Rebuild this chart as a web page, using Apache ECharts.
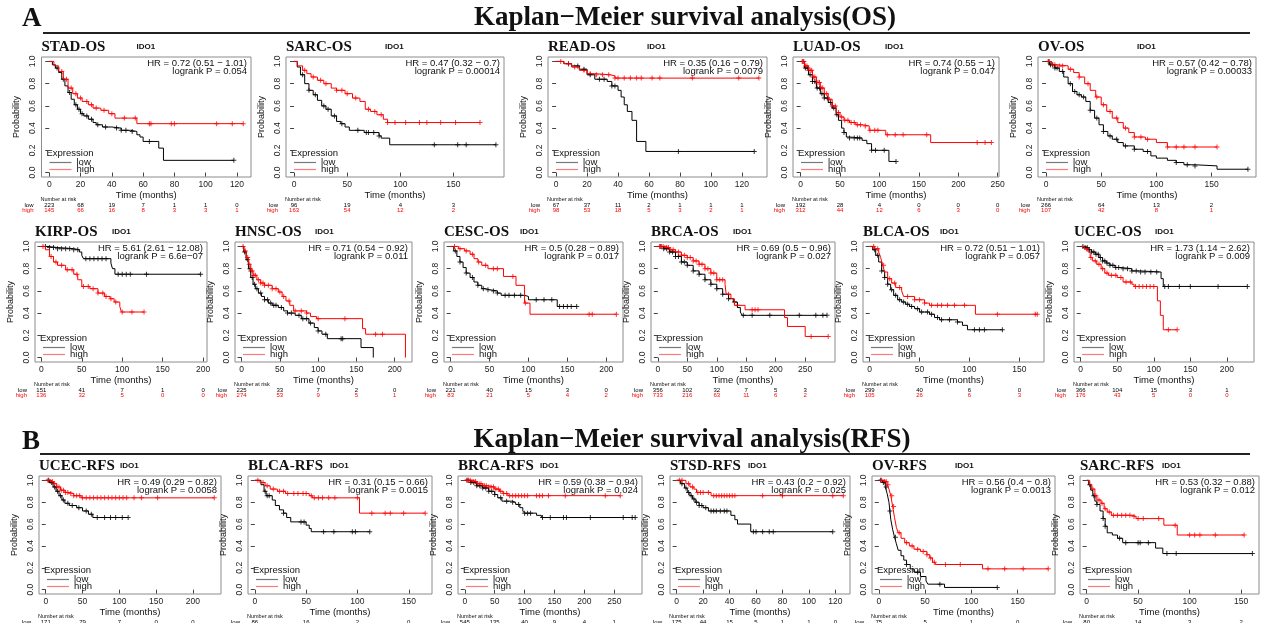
<!DOCTYPE html>
<html>
<head>
<meta charset="utf-8">
<title>Kaplan-Meier survival analysis</title>
<script src="https://cdn.jsdelivr.net/npm/echarts@6/dist/echarts.min.js"></script>
<style>
  html, body { margin: 0; padding: 0; background: #fff; }
  #chart { width: 1263px; height: 623px; }
</style>
</head>
<body>
<div id="chart"></div>
<script>
// ---------- data ----------
// curves: [time (months), survival probability after the step]
// censor: times of the "+" marks, risk: number at risk at each tick
const yTicks = [0, 0.2, 0.4, 0.6, 0.8, 1.0];

// STAD-OS
const stadOsTicks = [0, 20, 40, 60, 80, 100, 120];
const stadOsLow = [[0,1],[2,0.97],[4,0.94],[6,0.9],[8,0.84],[10,0.78],[12,0.72],[14,0.66],[16,0.61],[18,0.57],[20,0.53],[22,0.51],[25,0.48],[28,0.45],[30,0.43],[34,0.41],[40,0.40],[46,0.38],[52,0.37],[56,0.34],[58,0.32],[60,0.28],[70,0.22],[73,0.11],[118,0.11]];
const stadOsHigh = [[0,1],[3,0.96],[6,0.91],[9,0.84],[12,0.76],[15,0.71],[18,0.67],[21,0.64],[25,0.61],[28,0.58],[33,0.56],[38,0.53],[42,0.49],[56,0.44],[124,0.44]];
const stadOsLowCens = [5,9,13,17,19,21,24,27,31,36,43,46,49,53,64,118];
const stadOsHighCens = [8,11,14,17,20,24,27,30,35,40,48,55,64,65,78,80,107,117,124];
const stadOsRiskLow = [223,68,19,7,1,1,0];
const stadOsRiskHigh = [145,66,16,8,3,3,1];

// SARC-OS
const sarcOsTicks = [0, 50, 100, 150];
const sarcOsLow = [[0,1],[3,0.95],[6,0.88],[10,0.80],[14,0.74],[18,0.70],[22,0.65],[26,0.60],[30,0.57],[35,0.51],[40,0.46],[44,0.44],[48,0.41],[52,0.38],[66,0.36],[80,0.33],[82,0.31],[90,0.25],[190,0.25]];
const sarcOsHigh = [[0,1],[3,0.96],[8,0.92],[12,0.89],[16,0.86],[22,0.83],[28,0.80],[35,0.76],[40,0.74],[48,0.71],[55,0.67],[62,0.64],[67,0.57],[72,0.55],[78,0.52],[84,0.48],[88,0.45],[175,0.45]];
const sarcOsLowCens = [8,14,20,28,32,38,45,60,68,70,75,80,132,154,162,190];
const sarcOsHighCens = [10,18,25,30,40,45,50,58,70,76,82,88,95,105,118,125,138,152,175];
const sarcOsRiskLow = [96,19,4,3];
const sarcOsRiskHigh = [163,54,12,2];

// READ-OS
const readOsTicks = [0, 20, 40, 60, 80, 100, 120];
const readOsLow = [[0,1],[5,0.98],[10,0.96],[15,0.93],[20,0.88],[25,0.84],[33,0.82],[36,0.78],[40,0.74],[42,0.68],[44,0.61],[46,0.55],[49,0.47],[52,0.28],[58,0.19],[128,0.19]];
const readOsHigh = [[0,1],[5,0.98],[10,0.95],[15,0.92],[20,0.89],[25,0.88],[35,0.87],[38,0.85],[131,0.85]];
const readOsLowCens = [8,14,18,22,28,31,36,38,79,128];
const readOsHighCens = [3,8,12,18,22,26,30,34,38,40,44,48,52,55,62,67,88,118,131];
const readOsRiskLow = [67,37,11,2,1,1,1];
const readOsRiskHigh = [98,53,18,5,3,2,1];

// LUAD-OS
const luadOsTicks = [0, 50, 100, 150, 200, 250];
const luadOsLow = [[0,1],[5,0.94],[10,0.88],[15,0.82],[20,0.76],[25,0.71],[30,0.67],[35,0.63],[40,0.58],[45,0.52],[48,0.47],[52,0.40],[55,0.36],[58,0.32],[62,0.31],[78,0.29],[84,0.26],[90,0.20],[112,0.10],[121,0.10]];
const luadOsHigh = [[0,1],[5,0.96],[10,0.92],[15,0.86],[20,0.81],[25,0.76],[30,0.71],[35,0.66],[40,0.60],[45,0.54],[50,0.50],[55,0.47],[62,0.45],[70,0.43],[78,0.42],[87,0.38],[108,0.34],[165,0.27],[242,0.27]];
const luadOsLowCens = [3,6,9,12,15,18,21,24,27,30,34,38,42,46,55,62,68,72,75,90,95,106,121];
const luadOsHighCens = [2,4,6,8,10,12,14,16,18,20,22,24,26,28,30,33,36,40,44,48,52,56,60,64,68,72,76,82,88,94,98,110,120,130,160,224,234,242];
const luadOsRiskLow = [192,28,4,0,0,0];
const luadOsRiskHigh = [312,44,12,6,3,0];

// OV-OS
const ovOsTicks = [0, 50, 100, 150];
const ovOsLow = [[0,1],[3,0.97],[8,0.94],[12,0.91],[16,0.86],[20,0.80],[24,0.73],[28,0.70],[32,0.68],[36,0.64],[40,0.56],[44,0.49],[48,0.43],[52,0.37],[56,0.33],[60,0.30],[65,0.27],[70,0.24],[80,0.21],[88,0.19],[95,0.15],[100,0.13],[110,0.11],[118,0.09],[125,0.07],[135,0.06],[155,0.03],[183,0.03]];
const ovOsHigh = [[0,1],[5,0.97],[10,0.96],[20,0.93],[25,0.90],[30,0.86],[35,0.80],[40,0.74],[45,0.68],[50,0.61],[55,0.55],[60,0.49],[65,0.45],[70,0.40],[75,0.36],[80,0.32],[90,0.30],[100,0.27],[110,0.23],[155,0.23]];
const ovOsLowCens = [2,4,6,8,10,15,22,26,30,34,40,46,52,58,64,72,80,92,118,128,135,183];
const ovOsHighCens = [3,6,8,12,15,22,30,38,46,52,58,64,72,80,86,92,110,118,125,135,155];
const ovOsRiskLow = [266,64,13,2];
const ovOsRiskHigh = [107,42,8,1];

// KIRP-OS
const kirpOsTicks = [0, 50, 100, 150, 200];
const kirpOsLow = [[0,1],[8,0.99],[20,0.98],[40,0.97],[47,0.95],[50,0.92],[52,0.89],[86,0.85],[88,0.80],[91,0.75],[197,0.75]];
const kirpOsHigh = [[0,1],[5,0.97],[10,0.91],[15,0.86],[20,0.83],[30,0.79],[40,0.75],[45,0.70],[50,0.64],[60,0.62],[70,0.58],[78,0.55],[85,0.53],[90,0.50],[97,0.46],[99,0.41],[127,0.41]];
const kirpOsLowCens = [5,10,15,20,25,30,35,40,45,55,60,65,70,75,80,95,100,105,110,130,197];
const kirpOsHighCens = [2,12,18,25,32,38,44,52,58,64,70,76,80,86,92,100,112,127];
const kirpOsRiskLow = [151,41,7,1,0];
const kirpOsRiskHigh = [136,32,5,0,0];

// HNSC-OS
const hnscOsTicks = [0, 50, 100, 150, 200];
const hnscOsLow = [[0,1],[3,0.95],[6,0.88],[9,0.80],[12,0.72],[15,0.66],[18,0.62],[22,0.58],[26,0.55],[30,0.52],[35,0.49],[40,0.47],[48,0.45],[55,0.42],[60,0.40],[70,0.38],[78,0.35],[88,0.31],[95,0.27],[100,0.24],[105,0.21],[112,0.17],[156,0.09],[172,0.0]];
const hnscOsHigh = [[0,1],[3,0.96],[6,0.90],[9,0.84],[12,0.78],[15,0.74],[20,0.70],[25,0.67],[30,0.65],[40,0.62],[48,0.59],[53,0.55],[58,0.51],[63,0.47],[68,0.42],[85,0.40],[90,0.37],[98,0.35],[158,0.26],[162,0.21],[214,0.0]];
const hnscOsLowCens = [4,8,11,14,17,20,25,30,34,38,42,45,52,60,65,75,80,85,90,100,110,130,132];
const hnscOsHighCens = [2,5,8,10,12,14,16,18,22,25,28,30,35,40,45,50,55,62,70,78,85,100,135,175,184];
const hnscOsRiskLow = [225,33,7,2,0];
const hnscOsRiskHigh = [274,53,9,5,1];

// CESC-OS
const cescOsTicks = [0, 50, 100, 150, 200];
const cescOsLow = [[0,1],[4,0.96],[8,0.91],[12,0.86],[16,0.81],[20,0.76],[25,0.72],[30,0.68],[35,0.65],[40,0.62],[45,0.61],[50,0.60],[60,0.58],[65,0.56],[95,0.55],[100,0.52],[137,0.46],[162,0.46]];
const cescOsHigh = [[0,1],[10,0.98],[18,0.96],[25,0.93],[30,0.89],[35,0.86],[40,0.83],[48,0.80],[68,0.73],[84,0.65],[95,0.49],[102,0.39],[213,0.39]];
const cescOsLowCens = [6,12,20,28,35,42,48,55,60,70,75,82,90,110,120,130,140,145,150,155,162];
const cescOsHighCens = [5,12,20,28,36,45,55,60,80,96,178,182,213];
const cescOsRiskLow = [221,40,15,3,0];
const cescOsRiskHigh = [83,21,5,4,2];

// BRCA-OS
const brcaOsTicks = [0, 50, 100, 150, 200, 250];
const brcaOsLow = [[0,1],[10,0.98],[20,0.95],[30,0.91],[40,0.86],[50,0.83],[60,0.78],[70,0.75],[80,0.70],[90,0.66],[100,0.62],[110,0.57],[120,0.53],[128,0.50],[135,0.45],[140,0.41],[143,0.38],[287,0.38]];
const brcaOsHigh = [[0,1],[10,0.99],[20,0.97],[30,0.95],[40,0.92],[50,0.90],[60,0.87],[70,0.84],[80,0.80],[90,0.76],[100,0.70],[114,0.66],[116,0.57],[124,0.53],[130,0.47],[148,0.43],[215,0.36],[220,0.28],[250,0.19],[289,0.19]];
const brcaOsLowCens = [5,10,15,20,25,30,35,40,45,50,60,70,80,90,100,110,120,130,145,160,190,240,268,280,287];
const brcaOsHighCens = [3,6,9,12,15,18,22,26,30,35,40,45,50,55,60,65,70,75,80,85,90,95,100,105,110,120,135,160,165,170,260,289];
const brcaOsRiskLow = [356,102,32,7,5,3];
const brcaOsRiskHigh = [733,216,63,11,6,2];

// BLCA-OS
const blcaOsTicks = [0, 50, 100, 150];
const blcaOsLow = [[0,1],[3,0.97],[6,0.92],[9,0.86],[12,0.78],[15,0.72],[18,0.66],[21,0.61],[24,0.56],[28,0.52],[32,0.50],[36,0.48],[40,0.46],[45,0.44],[50,0.41],[60,0.39],[65,0.36],[70,0.34],[88,0.32],[93,0.29],[98,0.25],[133,0.25]];
const blcaOsHigh = [[0,1],[5,0.98],[9,0.95],[11,0.90],[13,0.83],[15,0.77],[18,0.71],[22,0.67],[26,0.63],[32,0.60],[34,0.55],[45,0.52],[55,0.49],[60,0.47],[106,0.39],[168,0.39]];
const blcaOsLowCens = [5,8,12,15,18,22,26,30,34,38,42,48,52,58,62,68,72,80,88,105,110,115,133];
const blcaOsHighCens = [4,8,14,20,25,30,38,45,50,55,62,68,72,78,85,95,128,166,168];
const blcaOsRiskLow = [299,40,6,0];
const blcaOsRiskHigh = [105,26,6,3];

// UCEC-OS
const ucecOsTicks = [0, 50, 100, 150, 200];
const ucecOsLow = [[0,1],[5,0.99],[10,0.97],[15,0.95],[20,0.93],[25,0.90],[30,0.87],[35,0.85],[40,0.83],[47,0.81],[55,0.80],[70,0.78],[80,0.77],[110,0.71],[113,0.64],[228,0.64]];
const ucecOsHigh = [[0,1],[5,0.98],[10,0.95],[13,0.90],[16,0.87],[22,0.84],[28,0.80],[33,0.76],[38,0.74],[50,0.72],[58,0.68],[70,0.66],[73,0.64],[105,0.51],[109,0.38],[113,0.25],[132,0.25]];
const ucecOsLowCens = [3,6,9,12,15,18,21,24,27,30,33,36,40,44,48,52,58,64,70,76,82,88,96,104,115,120,135,150,188,228];
const ucecOsHighCens = [8,14,20,25,30,36,42,48,55,62,68,75,80,85,90,95,100,120,132];
const ucecOsRiskLow = [366,104,15,3,1];
const ucecOsRiskHigh = [176,43,5,0,0];

// UCEC-RFS
const ucecRfsTicks = [0, 50, 100, 150, 200];
const ucecRfsLow = [[0,1],[5,0.98],[10,0.94],[14,0.90],[18,0.86],[22,0.82],[26,0.79],[32,0.77],[42,0.75],[50,0.72],[58,0.69],[64,0.66],[112,0.66]];
const ucecRfsHigh = [[0,1],[5,0.99],[10,0.97],[15,0.94],[20,0.91],[26,0.89],[32,0.88],[38,0.86],[48,0.84],[229,0.84]];
const ucecRfsLowCens = [4,8,12,16,20,24,30,36,45,55,62,70,80,88,95,104,112];
const ucecRfsHighCens = [3,6,9,12,15,18,21,24,27,30,34,38,42,46,50,55,60,65,70,75,80,85,90,95,100,105,110,120,130,152,229];
const ucecRfsRiskLow = [171,79,7,0,0];

// BLCA-RFS
const blcaRfsTicks = [0, 50, 100, 150];
const blcaRfsLow = [[0,1],[6,0.96],[9,0.90],[11,0.86],[17,0.82],[20,0.77],[24,0.73],[28,0.70],[31,0.66],[35,0.62],[50,0.59],[53,0.56],[55,0.53],[112,0.53]];
const blcaRfsHigh = [[0,1],[5,0.98],[10,0.95],[15,0.92],[22,0.90],[30,0.88],[53,0.86],[56,0.84],[102,0.70],[166,0.70]];
const blcaRfsLowCens = [10,12,14,28,45,48,67,77,95,98,112];
const blcaRfsHighCens = [3,8,12,18,24,28,32,38,42,47,50,55,58,62,66,72,78,100,114,127,132,145,166];
const blcaRfsRiskLow = [86,16,2,0];

// BRCA-RFS
const brcaRfsTicks = [0, 50, 100, 150, 200, 250];
const brcaRfsLow = [[0,1],[10,0.98],[20,0.95],[30,0.93],[40,0.90],[50,0.87],[55,0.84],[62,0.81],[78,0.80],[85,0.78],[92,0.75],[97,0.72],[100,0.70],[120,0.68],[128,0.66],[285,0.66]];
const brcaRfsHigh = [[0,1],[10,0.99],[20,0.97],[30,0.95],[40,0.94],[50,0.92],[58,0.90],[64,0.88],[72,0.86],[260,0.86]];
const brcaRfsLowCens = [5,10,15,20,25,30,35,40,45,50,60,70,80,90,100,105,110,130,143,165,170,210,265,280,285];
const brcaRfsHighCens = [3,6,9,12,15,18,21,24,27,30,33,36,40,44,48,52,56,60,65,70,75,80,85,90,95,100,105,120,125,130,140,168,235,260];
const brcaRfsRiskLow = [545,135,40,9,4,1];

// STSD-RFS
const stsdRfsTicks = [0, 20, 40, 60, 80, 100, 120];
const stsdRfsLow = [[0,1],[3,0.97],[6,0.93],[8,0.89],[10,0.86],[12,0.83],[14,0.80],[17,0.77],[20,0.75],[24,0.72],[41,0.68],[44,0.64],[46,0.60],[56,0.53],[118,0.53]];
const stsdRfsHigh = [[0,1],[7,0.97],[10,0.94],[13,0.92],[15,0.89],[26,0.86],[126,0.86]];
const stsdRfsLowCens = [4,7,9,11,13,15,17,19,22,26,28,30,33,36,38,58,60,65,70,73,118];
const stsdRfsHighCens = [2,4,9,12,16,18,20,24,28,30,32,34,36,38,40,42,44,65,80,118,126];
const stsdRfsRiskLow = [175,44,15,5,1,1,0];

// OV-RFS
const ovRfsTicks = [0, 50, 100, 150];
const ovRfsLow = [[0,1],[4,0.98],[7,0.94],[9,0.88],[11,0.80],[12,0.72],[13,0.64],[15,0.55],[17,0.48],[19,0.42],[21,0.36],[24,0.31],[27,0.27],[30,0.23],[34,0.19],[38,0.16],[45,0.12],[51,0.08],[53,0.05],[71,0.02],[128,0.02]];
const ovRfsHigh = [[0,1],[5,0.99],[9,0.96],[11,0.92],[13,0.86],[15,0.76],[17,0.66],[19,0.57],[21,0.52],[24,0.47],[28,0.43],[33,0.40],[38,0.37],[45,0.35],[52,0.32],[55,0.29],[58,0.25],[61,0.23],[112,0.19],[183,0.19]];
const ovRfsLowCens = [2,5,8,12,18,30,42,66,128];
const ovRfsHighCens = [3,6,8,10,14,16,22,30,36,42,48,52,56,60,72,88,118,136,156,183];
const ovRfsRiskLow = [75,5,1,0];

// SARC-RFS
const sarcRfsTicks = [0, 50, 100, 150];
const sarcRfsLow = [[0,1],[2,0.96],[4,0.91],[6,0.86],[8,0.81],[10,0.78],[13,0.72],[16,0.65],[18,0.58],[20,0.52],[25,0.50],[30,0.47],[35,0.43],[67,0.38],[74,0.33],[161,0.33]];
const sarcRfsHigh = [[0,1],[3,0.96],[5,0.92],[8,0.86],[10,0.82],[14,0.79],[17,0.74],[20,0.71],[24,0.68],[45,0.67],[48,0.65],[75,0.59],[88,0.50],[153,0.50]];
const sarcRfsLowCens = [3,7,10,16,18,32,38,50,52,60,78,87,161];
const sarcRfsHighCens = [6,9,12,15,18,22,26,30,34,38,42,46,50,55,70,86,100,105,110,125,153];
const sarcRfsRiskLow = [80,14,3,2];

// panel list (same order as the figure)
const panels = [
  {name: 'STAD-OS', hr: 'HR = 0.72 (0.51 − 1.01)', p: 'logrank P = 0.054', ticks: stadOsTicks, low: stadOsLow, high: stadOsHigh, lowCens: stadOsLowCens, highCens: stadOsHighCens, riskLow: stadOsRiskLow, riskHigh: stadOsRiskHigh},
  {name: 'SARC-OS', hr: 'HR = 0.47 (0.32 − 0.7)', p: 'logrank P = 0.00014', ticks: sarcOsTicks, low: sarcOsLow, high: sarcOsHigh, lowCens: sarcOsLowCens, highCens: sarcOsHighCens, riskLow: sarcOsRiskLow, riskHigh: sarcOsRiskHigh},
  {name: 'READ-OS', hr: 'HR = 0.35 (0.16 − 0.79)', p: 'logrank P = 0.0079', ticks: readOsTicks, low: readOsLow, high: readOsHigh, lowCens: readOsLowCens, highCens: readOsHighCens, riskLow: readOsRiskLow, riskHigh: readOsRiskHigh},
  {name: 'LUAD-OS', hr: 'HR = 0.74 (0.55 − 1)', p: 'logrank P = 0.047', ticks: luadOsTicks, low: luadOsLow, high: luadOsHigh, lowCens: luadOsLowCens, highCens: luadOsHighCens, riskLow: luadOsRiskLow, riskHigh: luadOsRiskHigh},
  {name: 'OV-OS', hr: 'HR = 0.57 (0.42 − 0.78)', p: 'logrank P = 0.00033', ticks: ovOsTicks, low: ovOsLow, high: ovOsHigh, lowCens: ovOsLowCens, highCens: ovOsHighCens, riskLow: ovOsRiskLow, riskHigh: ovOsRiskHigh},
  {name: 'KIRP-OS', hr: 'HR = 5.61 (2.61 − 12.08)', p: 'logrank P = 6.6e−07', ticks: kirpOsTicks, low: kirpOsLow, high: kirpOsHigh, lowCens: kirpOsLowCens, highCens: kirpOsHighCens, riskLow: kirpOsRiskLow, riskHigh: kirpOsRiskHigh},
  {name: 'HNSC-OS', hr: 'HR = 0.71 (0.54 − 0.92)', p: 'logrank P = 0.011', ticks: hnscOsTicks, low: hnscOsLow, high: hnscOsHigh, lowCens: hnscOsLowCens, highCens: hnscOsHighCens, riskLow: hnscOsRiskLow, riskHigh: hnscOsRiskHigh},
  {name: 'CESC-OS', hr: 'HR = 0.5 (0.28 − 0.89)', p: 'logrank P = 0.017', ticks: cescOsTicks, low: cescOsLow, high: cescOsHigh, lowCens: cescOsLowCens, highCens: cescOsHighCens, riskLow: cescOsRiskLow, riskHigh: cescOsRiskHigh},
  {name: 'BRCA-OS', hr: 'HR = 0.69 (0.5 − 0.96)', p: 'logrank P = 0.027', ticks: brcaOsTicks, low: brcaOsLow, high: brcaOsHigh, lowCens: brcaOsLowCens, highCens: brcaOsHighCens, riskLow: brcaOsRiskLow, riskHigh: brcaOsRiskHigh},
  {name: 'BLCA-OS', hr: 'HR = 0.72 (0.51 − 1.01)', p: 'logrank P = 0.057', ticks: blcaOsTicks, low: blcaOsLow, high: blcaOsHigh, lowCens: blcaOsLowCens, highCens: blcaOsHighCens, riskLow: blcaOsRiskLow, riskHigh: blcaOsRiskHigh},
  {name: 'UCEC-OS', hr: 'HR = 1.73 (1.14 − 2.62)', p: 'logrank P = 0.009', ticks: ucecOsTicks, low: ucecOsLow, high: ucecOsHigh, lowCens: ucecOsLowCens, highCens: ucecOsHighCens, riskLow: ucecOsRiskLow, riskHigh: ucecOsRiskHigh},
  {name: 'UCEC-RFS', hr: 'HR = 0.49 (0.29 − 0.82)', p: 'logrank P = 0.0058', ticks: ucecRfsTicks, low: ucecRfsLow, high: ucecRfsHigh, lowCens: ucecRfsLowCens, highCens: ucecRfsHighCens, riskLow: ucecRfsRiskLow, riskHigh: []},
  {name: 'BLCA-RFS', hr: 'HR = 0.31 (0.15 − 0.66)', p: 'logrank P = 0.0015', ticks: blcaRfsTicks, low: blcaRfsLow, high: blcaRfsHigh, lowCens: blcaRfsLowCens, highCens: blcaRfsHighCens, riskLow: blcaRfsRiskLow, riskHigh: []},
  {name: 'BRCA-RFS', hr: 'HR = 0.59 (0.38 − 0.94)', p: 'logrank P = 0.024', ticks: brcaRfsTicks, low: brcaRfsLow, high: brcaRfsHigh, lowCens: brcaRfsLowCens, highCens: brcaRfsHighCens, riskLow: brcaRfsRiskLow, riskHigh: []},
  {name: 'STSD-RFS', hr: 'HR = 0.43 (0.2 − 0.92)', p: 'logrank P = 0.025', ticks: stsdRfsTicks, low: stsdRfsLow, high: stsdRfsHigh, lowCens: stsdRfsLowCens, highCens: stsdRfsHighCens, riskLow: stsdRfsRiskLow, riskHigh: []},
  {name: 'OV-RFS', hr: 'HR = 0.56 (0.4 − 0.8)', p: 'logrank P = 0.0013', ticks: ovRfsTicks, low: ovRfsLow, high: ovRfsHigh, lowCens: ovRfsLowCens, highCens: ovRfsHighCens, riskLow: ovRfsRiskLow, riskHigh: []},
  {name: 'SARC-RFS', hr: 'HR = 0.53 (0.32 − 0.88)', p: 'logrank P = 0.012', ticks: sarcRfsTicks, low: sarcRfsLow, high: sarcRfsHigh, lowCens: sarcRfsLowCens, highCens: sarcRfsHighCens, riskLow: sarcRfsRiskLow, riskHigh: []}
];

// ---------- layout (px): plot frame left, right, top, height, IDO1 offset ----------
const boxes = [
  [41.5, 251, 57, 120, 95], [286, 504, 57, 120, 99], [548, 767, 57, 120, 99], [793, 999, 57, 120, 92], [1038, 1256, 57, 120, 99],
  [35, 207, 242, 120, 77], [235, 412, 242, 120, 80], [444, 623, 242, 120, 76], [651, 835, 242, 120, 82], [863, 1044, 242, 120, 77], [1074, 1254, 242, 120, 81],
  [39, 221, 476, 118, 81], [248, 432, 476, 118, 82], [458, 642, 476, 118, 82], [670, 850, 476, 118, 78], [872, 1055, 476, 118, 83], [1080, 1259, 476, 118, 82]
];

const RED = '#ff0000';
const BLACK = '#000000';
const PLUS = 'path://M2,0H3V2H5V3H3V5H2V3H0V2H2Z';
const SANS = '"Liberation Sans", Arial, sans-serif';
const SERIF = '"Liberation Serif", "Times New Roman", serif';

// value of the KM step function at time t
function stepAt(curve, t) {
  let y = curve[0][1];
  for (const pt of curve) {
    if (pt[0] <= t) y = pt[1];
    else break;
  }
  return y;
}

const chart = echarts.init(document.getElementById('chart'));

const grids = [], xAxes = [], yAxes = [], series = [], legends = [];

panels.forEach((p, i) => {
  const [l, r, top, h] = boxes[i];
  const xmax = Math.max(p.low[p.low.length - 1][0], p.high[p.high.length - 1][0]);
  grids.push({
    left: l, top: top, width: r - l, height: h,
    show: true, borderColor: '#8c8c8c', borderWidth: 1, backgroundColor: 'transparent',
    containLabel: false, outerBoundsMode: 'none'
  });
  xAxes.push({
    type: 'value', gridIndex: i, min: -0.04 * xmax, max: 1.04 * xmax,
    axisLine: {show: false}, splitLine: {show: false},
    axisTick: {show: true, customValues: p.ticks, length: 4, lineStyle: {color: '#444'}},
    axisLabel: {customValues: p.ticks, margin: 3, fontSize: 8.5, color: '#222', fontFamily: SANS},
    name: 'Time (months)', nameLocation: 'middle', nameGap: 10,
    nameTextStyle: {fontSize: 9.5, color: '#111', fontFamily: SANS}
  });
  yAxes.push({
    type: 'value', gridIndex: i, min: -0.04, max: 1.04,
    axisLine: {show: false}, splitLine: {show: false},
    axisTick: {show: true, customValues: yTicks, length: 4, lineStyle: {color: '#444'}},
    axisLabel: {customValues: yTicks, rotate: 90, margin: 4, fontSize: 8.5, color: '#222', fontFamily: SANS,
      formatter: v => v.toFixed(1)},
    name: 'Probability', nameLocation: 'middle', nameRotate: 90, nameGap: 20,
    nameTextStyle: {fontSize: 9, color: '#111', fontFamily: '"Liberation Sans Narrow", ' + SANS}
  });

  [['low', p.low, p.lowCens, BLACK], ['high', p.high, p.highCens, RED]].forEach(([nm, curve, cens, col]) => {
    series.push({
      type: 'line', name: nm, xAxisIndex: i, yAxisIndex: i, data: curve, step: 'end',
      showSymbol: false, symbol: 'none', lineStyle: {color: col, width: 1}, itemStyle: {color: col},
      animation: false, silent: true
    });
    series.push({
      type: 'scatter', name: nm, xAxisIndex: i, yAxisIndex: i,
      data: cens.map(t => [t, stepAt(curve, t)]),
      symbol: PLUS, symbolSize: 5, itemStyle: {color: col},
      animation: false, silent: true
    });
  });

  legends.push({
    orient: 'vertical', left: l + 8, top: top + h - 19.5, padding: 0, itemGap: -3,
    itemWidth: 22, itemHeight: 1.2, icon: 'rect', selectedMode: false,
    data: [{name: 'low', itemStyle: {color: '#777'}}, {name: 'high', itemStyle: {color: '#ff7a7a'}}],
    textStyle: {fontSize: 9.5, lineHeight: 7, color: '#111', fontFamily: SANS}
  });
});

chart.setOption({
  backgroundColor: '#fff',
  animation: false,
  grid: grids, xAxis: xAxes, yAxis: yAxes, legend: legends, series: series
});

// ---------- texts: headers, titles, HR, legend title, number at risk ----------
const graphics = [];
function txt(text, x, y, font, fill, align) {
  graphics.push({type: 'text', x: x, y: y, silent: true,
    style: {text: text, font: font, fill: fill || '#111', align: align || 'left', verticalAlign: 'middle'}});
}

// section headers
txt('A', 22, 19, 'bold 27px ' + SERIF, '#111');
txt('Kaplan−Meier survival analysis(OS)', 685, 18, 'bold 27px ' + SERIF, '#111', 'center');
graphics.push({type: 'line', silent: true, shape: {x1: 43, y1: 33, x2: 1250, y2: 33}, style: {stroke: '#222', lineWidth: 2}});
txt('B', 22, 442, 'bold 27px ' + SERIF, '#111');
txt('Kaplan−Meier survival analysis(RFS)', 692, 440, 'bold 27px ' + SERIF, '#111', 'center');
graphics.push({type: 'line', silent: true, shape: {x1: 40, y1: 454, x2: 1250, y2: 454}, style: {stroke: '#222', lineWidth: 2}});

panels.forEach((p, i) => {
  const [l, r, top, h, ido] = boxes[i];
  const bottom = top + h;
  txt(p.name, l, top - 10, 'bold 15px ' + SERIF, '#111');
  txt('IDO1', l + ido, top - 10, 'bold 8px ' + SANS, '#111');
  txt(p.hr, r - 4, top + 6, '9.5px ' + SANS, '#111', 'right');
  txt(p.p, r - 4, top + 14.5, '9.5px ' + SANS, '#111', 'right');
  txt('Expression', l + 5, bottom - 24, '9.5px ' + SANS, '#111');

  // number at risk table, placed on the axis scale
  txt('Number at risk', l - 1, bottom + 22.5, '5.5px ' + SANS, '#111');
  txt('low', l - 8, bottom + 28, '6px ' + SANS, BLACK, 'right');
  p.riskLow.forEach((n, k) => {
    txt(String(n), chart.convertToPixel({xAxisIndex: i}, p.ticks[k]), bottom + 28, '6px ' + SANS, BLACK, 'center');
  });
  if (p.riskHigh.length) {
    txt('high', l - 8, bottom + 33.5, '6px ' + SANS, RED, 'right');
    p.riskHigh.forEach((n, k) => {
      txt(String(n), chart.convertToPixel({xAxisIndex: i}, p.ticks[k]), bottom + 33.5, '6px ' + SANS, RED, 'center');
    });
  }
});

chart.setOption({graphic: graphics});
</script>
</body>
</html>
